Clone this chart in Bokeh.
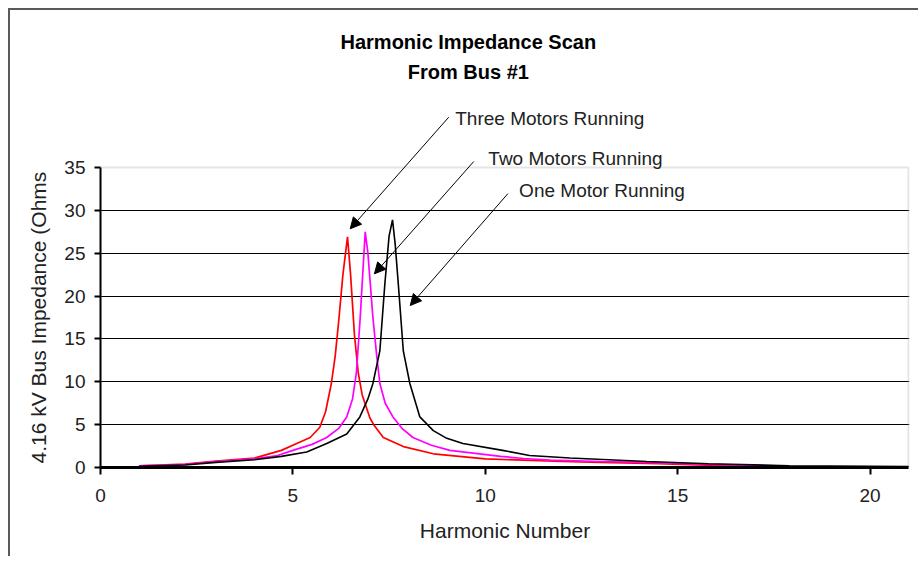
from bokeh.plotting import figure
from bokeh.models import Range1d, FixedTicker, Label, Arrow, NormalHead, BoxAnnotation, Title
from bokeh.embed import file_html
from bokeh.resources import INLINE

# ---- data ----
x_three = [1.0, 2.2, 3.0, 4.0, 4.7, 5.1, 5.45, 5.7, 5.85, 6.0, 6.1, 6.2, 6.3, 6.42, 6.5,
           6.6, 6.7, 6.8, 7.0, 7.1, 7.35, 7.9, 8.65, 10.0, 11.0, 12.0, 13.0, 14.5, 15.5, 16.8]
y_three = [0.2, 0.4, 0.75, 1.1, 2.0, 2.8, 3.5, 4.7, 6.5, 9.8, 13.0, 17.5, 22.5, 26.9, 22.5,
           15.5, 11.0, 8.5, 5.8, 5.0, 3.5, 2.4, 1.6, 1.0, 0.85, 0.7, 0.6, 0.45, 0.3, 0.15]

x_two = [1.0, 2.2, 3.0, 4.0, 4.6, 5.0, 5.5, 5.88, 6.2, 6.4, 6.55, 6.65, 6.75, 6.8, 6.88, 6.95,
         7.08, 7.18, 7.26, 7.4, 7.6, 7.85, 8.12, 8.6, 9.08, 10.4, 11.0, 11.7, 13.0, 14.2, 15.6, 17.9]
y_two = [0.2, 0.35, 0.7, 1.0, 1.4, 2.0, 2.7, 3.5, 4.6, 5.9, 8.0, 11.0, 17.5, 21.4, 27.5, 25.0,
         17.5, 13.0, 9.8, 7.5, 5.9, 4.5, 3.5, 2.6, 2.0, 1.3, 1.05, 0.85, 0.7, 0.6, 0.38, 0.15]

x_one = [1.0, 2.2, 3.0, 4.0, 4.7, 5.36, 5.88, 6.4, 6.74, 6.95, 7.08, 7.26, 7.39, 7.5, 7.59, 7.66,
         7.74, 7.87, 8.04, 8.3, 8.65, 9.0, 9.42, 10.45, 11.15, 12.2, 14.2, 15.8, 17.9, 21.0]
y_one = [0.15, 0.3, 0.6, 0.9, 1.3, 1.8, 2.8, 3.9, 5.9, 8.0, 9.8, 13.6, 21.4, 27.0, 28.9, 26.0,
         21.4, 13.6, 9.8, 5.9, 4.3, 3.4, 2.8, 2.0, 1.4, 1.1, 0.7, 0.43, 0.2, 0.1]

x_ticks = [0, 5, 10, 15, 20]
y_ticks = [0, 5, 10, 15, 20, 25, 30, 35]
grid_ticks = [5, 10, 15, 20, 25, 30]
x_axis_max = 21
y_axis_max = 35

title_lines = ["Harmonic Impedance Scan", "From Bus #1"]
series_names = ["Three Motors Running", "Two Motors Running", "One Motor Running"]
x_title = "Harmonic Number"
y_title = "4.16 kV Bus Impedance (Ohms"

FONT = "Liberation Sans"

# frame extends above the value area so the title and callouts can be drawn in it
p = figure(width=910, height=548, x_range=Range1d(0, 21.026), y_range=Range1d(0, 53.32),
           output_backend="svg", toolbar_location=None,
           min_border_left=90, min_border_right=11, min_border_top=0, min_border_bottom=91)
p.styles = {"margin-left": "8px", "margin-top": "8px",
            "border-top": "2px solid #5a5a5a", "border-left": "2px solid #5a5a5a"}

p.background_fill_color = "white"
p.border_fill_color = "white"
p.outline_line_color = None

p.xgrid.visible = False
p.ygrid.ticker = FixedTicker(ticks=grid_ticks)
p.ygrid.grid_line_color = "black"
p.ygrid.grid_line_width = 1.2

# plot-area border (top and right sides visible)
p.add_layout(BoxAnnotation(left=0, right=x_axis_max, bottom=0, top=y_axis_max,
                           fill_color=None, line_color="#a8a8a8", line_width=2, level="underlay"))

p.xaxis.ticker = FixedTicker(ticks=x_ticks)
p.yaxis.ticker = FixedTicker(ticks=y_ticks)
p.xaxis.bounds = (0, x_axis_max)
p.yaxis.bounds = (0, y_axis_max)
for ax in (p.xaxis, p.yaxis):
    ax.axis_line_color = "black"
    ax.major_tick_line_color = "black"
    ax.major_tick_line_width = 2
    ax.minor_tick_line_color = None
    ax.major_tick_in = 0
    ax.major_label_text_font = FONT
    ax.major_label_text_font_size = "19px"
    ax.major_label_text_color = "#222222"
    ax.axis_label_text_font = FONT
    ax.axis_label_text_font_style = "normal"
    ax.axis_label_text_font_size = "21px"
    ax.axis_label_text_color = "#222222"
p.xaxis.axis_line_width = 3
p.yaxis.axis_line_width = 2
p.xaxis.major_tick_out = 7
p.yaxis.major_tick_out = 6
p.xaxis.major_label_standoff = 14
p.yaxis.major_label_standoff = 9
p.xaxis.axis_label = x_title
p.xaxis.axis_label_standoff = 14

# y-axis title, positioned along the value area (0..35)
p.add_layout(Title(text=y_title, align="left", offset=4, vertical_align="bottom",
                   text_font=FONT, text_font_style="normal", text_font_size="21px",
                   text_color="#222222", standoff=24), "left")

p.line(x_three, y_three, line_color="#ff0000", line_width=1.7)
p.line(x_two, y_two, line_color="#ff00ff", line_width=1.7)
p.line(x_one, y_one, line_color="#000000", line_width=1.6)

# chart title (two lines)
p.add_layout(Label(x=9.56, y=49.6, text=title_lines[0], text_align="center",
                   text_baseline="alphabetic", text_font=FONT, text_font_style="bold",
                   text_font_size="20px", text_color="black"))
p.add_layout(Label(x=9.56, y=46.2, text=title_lines[1], text_align="center",
                   text_baseline="alphabetic", text_font=FONT, text_font_style="bold",
                   text_font_size="20px", text_color="black"))

# callouts
callouts = [
    (series_names[0], 9.22, 40.7, (9.05, 40.87), (6.49, 27.85)),
    (series_names[1], 10.08, 36.1, (9.70, 35.70), (7.12, 22.6)),
    (series_names[2], 10.88, 32.3, (10.59, 31.96), (8.05, 18.9)),
]
for name, tx, ty, (xs, ys), (xe, ye) in callouts:
    p.add_layout(Label(x=tx, y=ty, text=name, text_align="left", text_baseline="alphabetic",
                       text_font=FONT, text_font_size="19px", text_color="#222222"))
    p.add_layout(Arrow(end=NormalHead(size=11, fill_color="black", line_color="black"),
                       x_start=xs, y_start=ys, x_end=xe, y_end=ye,
                       line_color="black", line_width=1))

open("out.html", "w").write(file_html(p, INLINE))
